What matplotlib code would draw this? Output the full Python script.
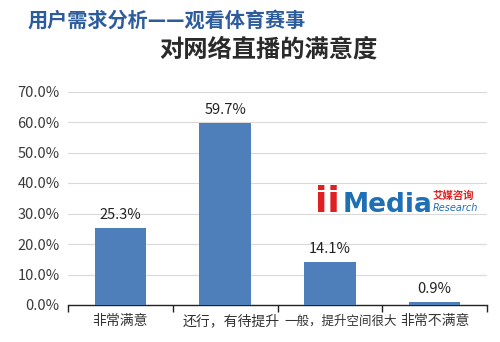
import matplotlib
matplotlib.use("Agg")
import matplotlib.pyplot as plt
from matplotlib.ticker import FixedLocator, FuncFormatter

plt.rcParams['font.family'] = ['Noto Sans CJK SC', 'DejaVu Sans']

categories = ["非常满意", "还行，有待提升", "一般，提升空间很大", "非常不满意"]
values = [25.3, 59.7, 14.1, 0.9]
yticks = [0, 10, 20, 30, 40, 50, 60, 70]
title1 = "用户需求分析——观看体育赛事"
title2 = "对网络直播的满意度"

W, H = 500, 342
fig = plt.figure(figsize=(W / 100, H / 100), dpi=100)
ax = fig.add_axes([68 / W, 1 - 305 / H, (487 - 68) / W, (305 - 91.5) / H])

x = list(range(len(categories)))
ax.bar(x, values, width=0.49, color="#4F7FBA", zorder=3)
ax.set_xlim(-0.5, len(categories) - 0.5)
ax.set_ylim(0, 70)
ax.yaxis.set_major_locator(FixedLocator(yticks))
ax.yaxis.set_major_formatter(FuncFormatter(lambda v, p: f"{v:.1f}%"))
ax.grid(axis="y", color="#D9D9D9", linewidth=0.8, zorder=0)
for s in ["top", "right", "left"]:
    ax.spines[s].set_visible(False)
ax.spines["bottom"].set_color("#222222")
ax.spines["bottom"].set_linewidth(1.0)
ax.tick_params(axis="y", length=0, labelsize=10.5, labelcolor="#3A3A3A", pad=6)
ax.set_xticks(x)
ax.set_xticklabels([])
ax.tick_params(axis="x", length=0)
ax.set_xticks([i - 0.5 for i in range(len(categories) + 1)], minor=True)
ax.tick_params(axis="x", which="minor", length=5, direction="out", color="#222222", width=1)

label_shift = [0.0, 0.06, 0.10, 0.0]
label_size = [10, 10, 9, 10]
for i, c in enumerate(categories):
    ax.text(i + label_shift[i], -5.2, c, ha="center", va="center",
            fontsize=label_size[i], color="#333333")
for i, v in enumerate(values):
    ax.text(i, v + 2.0, f"{v}%", ha="center", va="bottom", fontsize=10.5, color="#222222")

fig.text(28 / W, 1 - 20 / H, title1, ha="left", va="center", fontsize=14.5,
         fontweight="bold", color="#2D5C9E")
fig.text(268 / W, 1 - 50 / H, title2, ha="center", va="center", fontsize=17.5,
         fontweight="bold", color="#2A2A2A")

# watermark logo
fig.text(315 / W, 1 - 202 / H, "ii", ha="left", va="center", fontsize=26,
         fontweight="bold", color="#E02020", family=["DejaVu Sans"])
fig.text(343 / W, 1 - 205 / H, "Media", ha="left", va="center", fontsize=19,
         fontweight="bold", color="#1F6FB5", family=["DejaVu Sans"])
fig.text(433 / W, 1 - 196 / H, "艾媒咨询", ha="left", va="center", fontsize=7.5,
         fontweight="bold", color="#E02020")
fig.text(433 / W, 1 - 208 / H, "Research", ha="left", va="center", fontsize=7,
         style="italic", color="#1F6FB5", family=["DejaVu Sans"])

fig.savefig("out.png", dpi=100)
